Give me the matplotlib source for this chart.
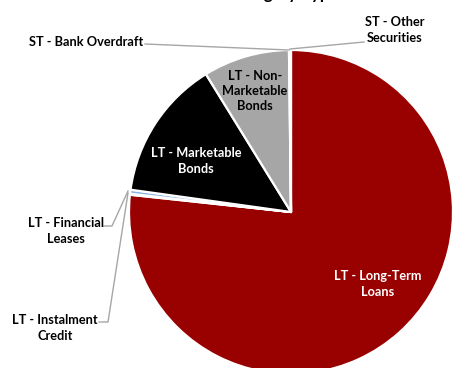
import matplotlib
matplotlib.use("Agg")
import matplotlib.pyplot as plt

# Debt composition by category type (share of total, %)
categories = [
    "LT - Long-Term\nLoans",
    "LT - Instalment\nCredit",
    "LT - Financial\nLeases",
    "LT - Marketable\nBonds",
    "LT - Non-\nMarketable\nBonds",
    "ST - Bank Overdraft",
    "ST - Other\nSecurities",
]
shares = [76.7, 0.1, 0.4, 14.0, 8.6, 0.1, 0.1]
colors = ["#990000", "#4f81bd", "#8db3e2", "#000000", "#a6a6a6", "#7f7f7f", "#c0c0c0"]
title = "Total Debt Stock \u2013 Category Type and Maturities"

W, H = 453, 368
plt.rcParams["font.family"] = ["Lato", "DejaVu Sans"]

fig = plt.figure(figsize=(W / 100, H / 100), dpi=100)
ax = fig.add_axes([0, 0, 1, 1])


def py(y):
    # pixel row (from top) to data y
    return H - y


cx, cy, r = 291, 212, 162
wedges, _ = ax.pie(
    shares,
    colors=colors,
    startangle=90,
    counterclock=False,
    center=(cx, py(cy)),
    radius=r,
    frame=True,
    wedgeprops=dict(edgecolor="white", linewidth=1.6),
)
ax.set_xlim(0, W)
ax.set_ylim(0, H)
ax.set_aspect("equal")
ax.axis("off")

fs = 9.2
# labels inside the larger slices
ax.text(378, py(284), categories[0], ha="center", va="center", color="white",
        fontsize=fs, fontweight="bold", linespacing=1.35)
ax.text(196, py(161), categories[3], ha="center", va="center", color="white",
        fontsize=fs, fontweight="bold", linespacing=1.35)
ax.text(255, py(91), categories[4], ha="center", va="center", color="black",
        fontsize=fs, fontweight="bold", linespacing=1.35)

# outside labels with leader lines
lc = "#a6a6a6"
ax.text(143, py(42), categories[5], ha="right", va="center", color="black",
        fontsize=fs, fontweight="bold")
ax.plot([145, 289], [py(44), py(50)], color=lc, lw=1)

ax.text(395, py(30), categories[6], ha="center", va="center", color="black",
        fontsize=fs, fontweight="bold", linespacing=1.35)
ax.plot([364, 290], [py(42), py(49)], color=lc, lw=1)

ax.text(66, py(231), categories[2], ha="center", va="center", color="black",
        fontsize=fs, fontweight="bold", linespacing=1.35)
ax.plot([104, 112, 128], [py(226), py(226), py(191)], color=lc, lw=1)

ax.text(55, py(328), categories[1], ha="center", va="center", color="black",
        fontsize=fs, fontweight="bold", linespacing=1.35)
ax.plot([99, 108, 128], [py(322), py(322), py(193)], color=lc, lw=1)

# chart title, sitting at the very top edge
fig.text(87 / W, 1 + 0.5 / H, title, ha="left", va="baseline",
         fontsize=12, fontweight="bold")

fig.savefig("out.png", dpi=100)
